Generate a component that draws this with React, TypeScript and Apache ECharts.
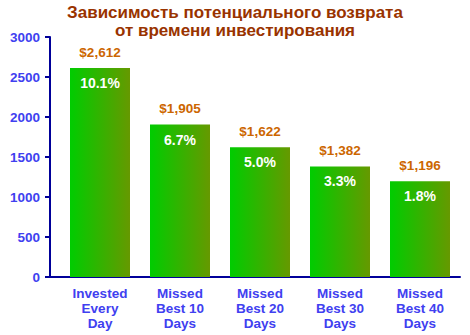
import React, { useEffect, useRef } from "react";
import * as echarts from "echarts";

const categories = ["Invested\nEvery\nDay", "Missed\nBest 10\nDays", "Missed\nBest 20\nDays", "Missed\nBest 30\nDays", "Missed\nBest 40\nDays"];
const values = [2612, 1905, 1622, 1382, 1196];
const percents = ["10.1%", "6.7%", "5.0%", "3.3%", "1.8%"];
const titleLine1 = "Зависимость потенциального возврата";
const titleLine2 = "от времени инвестирования";

const FONT = "'Liberation Sans', Arial, sans-serif";
const BLUE = "#4040f0";
const NAVY = "#000099";

const titleStyle = {
  fontFamily: FONT,
  fontSize: 17,
  fontWeight: "bold",
  color: "#993300",
  lineHeight: 16,
  textShadowColor: "#e8c0a0",
  textShadowOffsetX: 1,
  textShadowOffsetY: 1,
  textShadowBlur: 0,
};

export default function App() {
  const ref = useRef<HTMLDivElement>(null);
  useEffect(() => {
    if (!ref.current) return;
    const chart = echarts.init(ref.current, undefined, { renderer: "svg" });
    chart.setOption({
      animation: false,
      backgroundColor: "#ffffff",
      title: {
        text: titleLine1,
        subtext: titleLine2,
        left: "center",
        top: 4,
        padding: 0,
        itemGap: 1,
        textStyle: titleStyle,
        subtextStyle: titleStyle,
      },
      grid: { left: 60, right: 10, top: 37, bottom: 58 },
      xAxis: {
        type: "category",
        data: categories,
        axisLine: { show: true, lineStyle: { color: NAVY, width: 2 } },
        axisTick: { show: false },
        axisLabel: {
          interval: 0,
          margin: 9,
          fontFamily: FONT,
          fontSize: 13.5,
          fontWeight: "bold",
          color: BLUE,
          lineHeight: 15,
        },
      },
      yAxis: {
        type: "value",
        min: 0,
        max: 3000,
        interval: 500,
        offset: 10,
        axisLine: { show: true, lineStyle: { color: NAVY, width: 2 } },
        axisTick: { show: true, length: 5, lineStyle: { color: NAVY, width: 2 } },
        splitLine: { show: false },
        axisLabel: {
          margin: 10,
          formatter: (v: number) => String(v),
          fontFamily: FONT,
          fontSize: 13.5,
          fontWeight: "bold",
          color: BLUE,
        },
      },
      graphic: [
        {
          type: "rect",
          shape: { x: 49, y: 276, width: 12, height: 2 },
          style: { fill: NAVY },
          silent: true,
        },
      ],
      series: [
        {
          type: "bar",
          data: values,
          barWidth: 60,
          itemStyle: {
            color: new echarts.graphic.LinearGradient(0, 0, 1, 0, [
              { offset: 0, color: "#00cc00" },
              { offset: 1, color: "#669900" },
            ]),
          },
          label: {
            show: true,
            position: "top",
            distance: 9,
            formatter: (p: any) => "$" + Number(p.value).toLocaleString("en-US"),
            fontFamily: FONT,
            fontSize: 13.5,
            fontWeight: "bold",
            color: "#cc6600",
          },
        },
        {
          type: "bar",
          data: values,
          barWidth: 60,
          barGap: "-100%",
          silent: true,
          itemStyle: { color: "rgba(0,0,0,0)" },
          label: {
            show: true,
            position: "insideTop",
            distance: 8,
            formatter: (p: any) => percents[p.dataIndex],
            fontFamily: FONT,
            fontSize: 14,
            fontWeight: "bold",
            color: "#ffffff",
          },
        },
      ],
    });
    return () => chart.dispose();
  }, []);
  return <div ref={ref} style={{ position: "fixed", left: 0, top: 0, width: 470, height: 335 }} />;
}
